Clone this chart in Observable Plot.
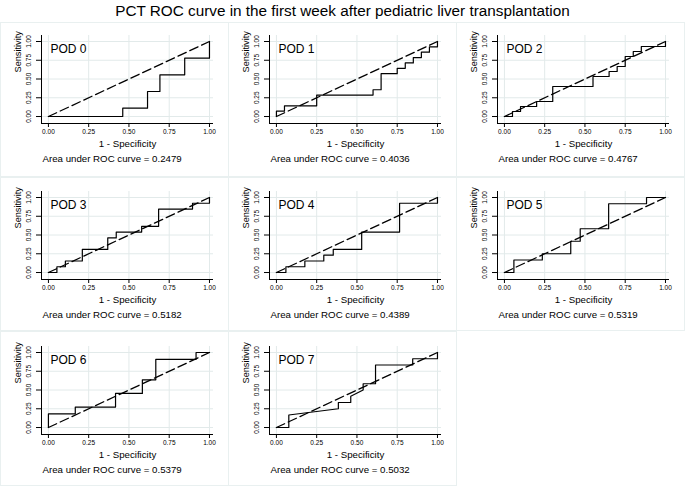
<!DOCTYPE html>
<html><head><meta charset="utf-8">
<script src="https://cdn.jsdelivr.net/npm/d3@7"></script>
<script src="https://cdn.jsdelivr.net/npm/@observablehq/plot@0.6"></script>
<style>
body{margin:0;background:#fff;font-family:"Liberation Sans",Arial,sans-serif;}
#wrap{position:relative;width:685px;height:488px;overflow:hidden;background:#fff;}
#title{position:absolute;left:0;top:3px;width:685px;text-align:center;font-size:15.3px;line-height:15.3px;color:#000;white-space:nowrap;}
.box{position:absolute;border:1px solid #e9f0f0;box-sizing:border-box;}
.panel{position:absolute;}
</style></head><body>
<div id="wrap"><div id="title">PCT ROC curve in the first week after pediatric liver transplantation</div></div>
<script>
const panelNames = ["POD 0","POD 1","POD 2","POD 3","POD 4","POD 5","POD 6","POD 7"];
const aucValues = ["0.2479","0.4036","0.4767","0.5182","0.4389","0.5319","0.5379","0.5032"];
const tickValues = [0, 0.25, 0.5, 0.75, 1];
const tickLabels = ["0.00","0.25","0.50","0.75","1.00"];

const pod0X = [0, 0.4615, 0.4615, 0.6154, 0.6154, 0.6923, 0.6923, 0.8462, 0.8462, 1, 1];
const pod0Y = [0, 0, 0.1111, 0.1111, 0.3333, 0.3333, 0.5556, 0.5556, 0.7778, 0.7778, 1];

const pod1X = [0, 0, 0.05, 0.05, 0.25, 0.25, 0.6, 0.6, 0.65, 0.65, 0.75, 0.75, 0.8, 0.8, 0.85, 0.85, 0.9, 0.9, 0.95, 0.95, 1, 1];
const pod1Y = [0, 0.0714, 0.0714, 0.1429, 0.1429, 0.2857, 0.2857, 0.3571, 0.3571, 0.5714, 0.5714, 0.6429, 0.6429, 0.7143, 0.7143, 0.7857, 0.7857, 0.8571, 0.8571, 0.9286, 0.9286, 1];

const pod2X = [0, 0.05, 0.05, 0.1, 0.1, 0.2, 0.2, 0.3, 0.3, 0.55, 0.55, 0.65, 0.65, 0.7, 0.7, 0.75, 0.75, 0.8, 0.8, 0.85, 0.85, 1, 1];
const pod2Y = [0, 0, 0.0667, 0.0667, 0.1333, 0.1333, 0.2, 0.2, 0.4, 0.4, 0.5333, 0.5333, 0.6, 0.6, 0.6667, 0.6667, 0.8, 0.8, 0.8667, 0.8667, 0.9333, 0.9333, 1];

const pod3X = [0, 0.0526, 0.0526, 0.1053, 0.1053, 0.2105, 0.2105, 0.3684, 0.3684, 0.4211, 0.4211, 0.5789, 0.5789, 0.6842, 0.6842, 0.8947, 0.8947, 1, 1];
const pod3Y = [0, 0, 0.0769, 0.0769, 0.1538, 0.1538, 0.3077, 0.3077, 0.4615, 0.4615, 0.5385, 0.5385, 0.6154, 0.6154, 0.8462, 0.8462, 0.9231, 0.9231, 1];

const pod4X = [0, 0.0588, 0.0588, 0.1765, 0.1765, 0.2941, 0.2941, 0.3529, 0.3529, 0.5294, 0.5294, 0.7647, 0.7647, 1, 1];
const pod4Y = [0, 0, 0.0769, 0.0769, 0.1538, 0.1538, 0.2308, 0.2308, 0.3077, 0.3077, 0.5385, 0.5385, 0.9231, 0.9231, 1];

const pod5X = [0, 0.0588, 0.0588, 0.2353, 0.2353, 0.4118, 0.4118, 0.4706, 0.4706, 0.6471, 0.6471, 0.8824, 0.8824, 1];
const pod5Y = [0, 0, 0.1667, 0.1667, 0.25, 0.25, 0.4167, 0.4167, 0.5833, 0.5833, 0.9167, 0.9167, 1, 1];

const pod6X = [0, 0, 0.1667, 0.1667, 0.4167, 0.4167, 0.5833, 0.5833, 0.6667, 0.6667, 0.9167, 0.9167, 1];
const pod6Y = [0, 0.1818, 0.1818, 0.2727, 0.2727, 0.4545, 0.4545, 0.6364, 0.6364, 0.9091, 0.9091, 1, 1];

const pod7X = [0, 0.0769, 0.0769, 0.3846, 0.3846, 0.4615, 0.4615, 0.5385, 0.5385, 0.6154, 0.6154, 0.8462, 0.8462, 1, 1];
const pod7Y = [0, 0, 0.1667, 0.25, 0.3333, 0.3333, 0.4167, 0.5, 0.5833, 0.5833, 0.8333, 0.8333, 0.9167, 0.9167, 1];

const refX = [0, 1];
const refY = [0, 1];

const curvesX = [pod0X, pod1X, pod2X, pod3X, pod4X, pod5X, pod6X, pod7X];
const curvesY = [pod0Y, pod1Y, pod2Y, pod3Y, pod4Y, pod5Y, pod6Y, pod7Y];

const xDom = [-0.043, 1.025];
const yDom = [-0.093, 1.08];
const gridColor = "#e2eaea";
const font = "'Liberation Sans', Arial, sans-serif";

function makePanel(i) {
  const pts = curvesX[i].map((x, k) => ({x, y: curvesY[i][k]}));
  const ref = refX.map((x, k) => ({x, y: refY[k]}));
  return Plot.plot({
    width: 228, height: 155,
    marginLeft: 41, marginRight: 15, marginTop: 12, marginBottom: 55,
    x: {domain: xDom, label: null}, y: {domain: yDom, label: null},
    style: {fontFamily: font, background: "transparent", overflow: "visible", color: "#000"},
    marks: [
      Plot.gridX(tickValues, {stroke: gridColor, strokeOpacity: 1, strokeWidth: 1}),
      Plot.gridY(tickValues, {stroke: gridColor, strokeOpacity: 1, strokeWidth: 1}),
      Plot.ruleX([xDom[0]], {stroke: "#000", strokeWidth: 1}),
      Plot.ruleY([yDom[0]], {stroke: "#000", strokeWidth: 1}),
      Plot.axisX(tickValues, {label: null, tickSize: 4, tickPadding: 2, fontSize: 6.5, tickFormat: d => tickLabels[tickValues.indexOf(d)], stroke: "#000"}),
      Plot.axisY(tickValues, {label: null, tickSize: 5, tickFormat: () => "", stroke: "#000"}),
      Plot.text(tickValues, {y: d => d, frameAnchor: "left", text: d => tickLabels[tickValues.indexOf(d)], rotate: -90, dx: -12.5, fontSize: 6.5, textAnchor: "middle", lineAnchor: "middle", fill: "#000"}),
      Plot.line(ref, {x: "x", y: "y", stroke: "#000", strokeWidth: 1.3, strokeDasharray: "9,4"}),
      Plot.line(pts, {x: "x", y: "y", stroke: "#000", strokeWidth: 1.2}),
      Plot.text([panelNames[i]], {text: d => d, frameAnchor: "top-left", dx: 9, dy: 14, fontSize: 12, textAnchor: "start", lineAnchor: "middle", fill: "#000"}),
      Plot.text(["1 - Specificity"], {text: d => d, frameAnchor: "bottom", dy: 20, fontSize: 9.7, lineAnchor: "middle", fill: "#000"}),
      Plot.text(["Sensitivity"], {text: d => d, frameAnchor: "left", rotate: -90, dx: -23, dy: -7, fontSize: 9.2, lineAnchor: "middle", fill: "#000"}),
      Plot.text(["Area under ROC curve = " + aucValues[i]], {text: d => d, frameAnchor: "bottom-left", dx: 1, dy: 35, fontSize: 9.7, textAnchor: "start", lineAnchor: "middle", fill: "#000"})
    ]
  });
}

const wrap = document.getElementById("wrap");
const boxTops = [22, 177, 331];
const boxHeights = [155, 154, 155];
const svgTops = [23, 179, 334];
for (let i = 0; i < 8; i++) {
  const r = Math.floor(i / 3), c = i % 3;
  const box = document.createElement("div");
  box.className = "box";
  box.style.left = (c * 228) + "px";
  box.style.top = boxTops[r] + "px";
  box.style.width = "229px";
  box.style.height = boxHeights[r] + "px";
  wrap.appendChild(box);
  const p = document.createElement("div");
  p.className = "panel";
  p.style.left = (c * 228) + "px";
  p.style.top = svgTops[r] + "px";
  p.appendChild(makePanel(i));
  wrap.appendChild(p);
}
</script>
</body></html>
